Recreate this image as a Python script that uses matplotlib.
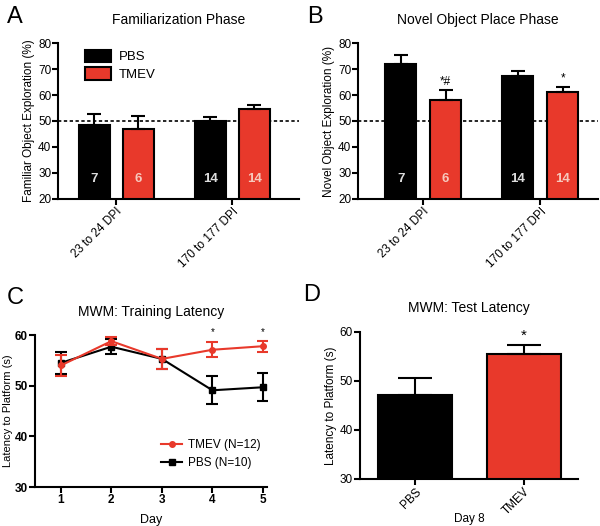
import numpy as np
import matplotlib
matplotlib.use("Agg")
import matplotlib.pyplot as plt
from matplotlib.lines import Line2D

plt.rcParams['font.family'] = ['Liberation Sans', 'DejaVu Sans']

RED = '#e8392b'

# panel A / B data
groups = ["23 to 24 DPI", "170 to 177 DPI"]
fam_pbs = [48.5, 50.0]
fam_pbs_err = [4.0, 1.5]
fam_tmev = [47.0, 54.5]
fam_tmev_err = [5.0, 1.7]
nov_pbs = [72.0, 67.5]
nov_pbs_err = [3.5, 1.7]
nov_tmev = [58.0, 61.0]
nov_tmev_err = [4.0, 2.2]
n_pbs = ["7", "14"]
n_tmev = ["6", "14"]
nov_marks = ["*#", "*"]

# panel C data
days = [1, 2, 3, 4, 5]
train_tmev = [54.0, 58.8, 55.3, 57.1, 57.8]
train_tmev_err = [2.0, 0.8, 2.0, 1.5, 1.1]
train_pbs = [54.5, 57.7, 55.3, 49.1, 49.7]
train_pbs_err = [2.1, 1.5, 2.0, 2.8, 2.8]
train_marks_days = [4, 5]

# panel D data
test_groups = ["PBS", "TMEV"]
test_vals = [47.1, 55.4]
test_err = [3.5, 1.9]

fig = plt.figure(figsize=(6, 5.26), dpi=100)


def style_axes(ax, bold=False):
    for s in ['top', 'right']:
        ax.spines[s].set_visible(False)
    for s in ['left', 'bottom']:
        ax.spines[s].set_linewidth(1.5)
    ax.tick_params(direction='out', width=1.5, length=4, labelsize=8.5, pad=1)
    if bold:
        for lab in ax.get_xticklabels() + ax.get_yticklabels():
            lab.set_fontweight('bold')


def object_panel(rect, pbs, pbs_err, tmev, tmev_err, xlim, off, w, title, ylabel, letter, marks=None, legend=False):
    ax = fig.add_axes(rect)
    x = np.arange(len(groups))
    ax.bar(x - off, pbs, w, color='black', edgecolor='black', linewidth=1.5,
           yerr=[[0, 0], pbs_err], capsize=5, error_kw=dict(elinewidth=1.5, capthick=1.5), label='PBS', zorder=2)
    ax.bar(x + off, tmev, w, color=RED, edgecolor='black', linewidth=1.5,
           yerr=[[0, 0], tmev_err], capsize=5, error_kw=dict(elinewidth=1.5, capthick=1.5), label='TMEV', zorder=2)
    ax.axhline(50, color='black', linestyle=(0, (2, 1.5)), linewidth=1.2, zorder=1)
    for i in range(len(groups)):
        ax.text(x[i] - off, 27.5, n_pbs[i], color='#dddddd', ha='center', va='center', fontsize=9.5, fontweight='bold')
        ax.text(x[i] + off, 27.5, n_tmev[i], color='#f6c9bd', ha='center', va='center', fontsize=9.5, fontweight='bold')
        if marks:
            ax.text(x[i] + off, tmev[i] + tmev_err[i] + 0.8, marks[i], ha='center', va='bottom', fontsize=8.5)
    ax.set_ylim(20, 80)
    ax.set_yticks(np.arange(20, 81, 10))
    ax.set_xlim(*xlim)
    ax.set_xticks(x)
    ax.set_xticklabels(groups, rotation=45, ha='right', rotation_mode='anchor')
    ax.set_title(title, fontsize=10, pad=14)
    ax.set_ylabel(ylabel, fontsize=8.5, labelpad=2)
    style_axes(ax)
    if legend:
        ax.legend(loc='upper left', bbox_to_anchor=(0.06, 1.035), frameon=False, fontsize=9.5,
                  handlelength=2.0, handleheight=1.1, handletextpad=0.6, labelspacing=0.3)
    fig.text(rect[0] - 0.085, rect[1] + rect[3] + 0.05, letter, fontsize=17, va='center')
    return ax


object_panel([0.097, 0.622, 0.402, 0.296], fam_pbs, fam_pbs_err, fam_tmev, fam_tmev_err,
             (-0.5, 1.578), 0.19, 0.267, "Familiarization Phase", "Familiar Object Exploration (%)", "A", legend=True)
object_panel([0.597, 0.622, 0.400, 0.296], nov_pbs, nov_pbs_err, nov_tmev, nov_tmev_err,
             (-0.556, 1.496), 0.192, 0.265, "Novel Object Place Phase", "Novel Object Exploration (%)", "B", marks=nov_marks)

# panel C
axc = fig.add_axes([0.058, 0.074, 0.387, 0.289])
axc.errorbar(days, train_tmev, yerr=train_tmev_err, color=RED, marker='o', markersize=4, linewidth=1.5,
             capsize=4, elinewidth=1.5, capthick=1.5, zorder=3)
axc.errorbar(days, train_pbs, yerr=train_pbs_err, color='black', marker='s', markersize=4, linewidth=1.5,
             capsize=4, elinewidth=1.5, capthick=1.5, zorder=2)
for d in train_marks_days:
    axc.text(d, 59.6, "*", ha='center', va='bottom', fontsize=7)
axc.set_xlim(0.485, 5.08)
axc.set_ylim(30, 60)
axc.set_xticks(days)
axc.set_yticks([30, 40, 50, 60])
axc.set_xlabel("Day", fontsize=9, labelpad=6)
axc.set_ylabel("Latency to Platform (s)", fontsize=8, labelpad=1)
axc.set_title("MWM: Training Latency", fontsize=10, pad=14)
style_axes(axc, bold=True)
handles = [Line2D([], [], color=RED, marker='o', markersize=4, linewidth=1.5),
           Line2D([], [], color='black', marker='s', markersize=4, linewidth=1.5)]
axc.legend(handles, ['TMEV (N=12)', 'PBS (N=10)'], loc='lower right', bbox_to_anchor=(1.02, 0.05),
           frameon=False, fontsize=8.5, handlelength=1.8, handletextpad=0.5, labelspacing=0.5)
fig.text(0.012, 0.363 + 0.07, "C", fontsize=17, va='center')

# panel D
axd = fig.add_axes([0.600, 0.0894, 0.363, 0.2796])
xd = np.arange(len(test_groups))
axd.bar(xd, test_vals, 0.68, color=['black', RED], edgecolor='black', linewidth=1.5,
        yerr=[[0, 0], test_err], capsize=12, error_kw=dict(elinewidth=1.5, capthick=1.5))
axd.text(xd[1], test_vals[1] + test_err[1] + 0.5, "*", ha='center', va='bottom', fontsize=11)
axd.set_xlim(-0.505, 1.495)
axd.set_ylim(30, 60)
axd.set_yticks([30, 40, 50, 60])
axd.set_xticks(xd)
axd.set_xticklabels(test_groups, rotation=45, ha='right', rotation_mode='anchor')
axd.set_xlabel("Day 8", fontsize=8.5)
axd.xaxis.set_label_coords(0.5, -0.23)
axd.set_ylabel("Latency to Platform (s)", fontsize=8.5, labelpad=2)
axd.set_title("MWM: Test Latency", fontsize=10, pad=14)
style_axes(axd)
fig.text(0.505, 0.369 + 0.07, "D", fontsize=17, va='center')

fig.savefig("out.png", dpi=100)
